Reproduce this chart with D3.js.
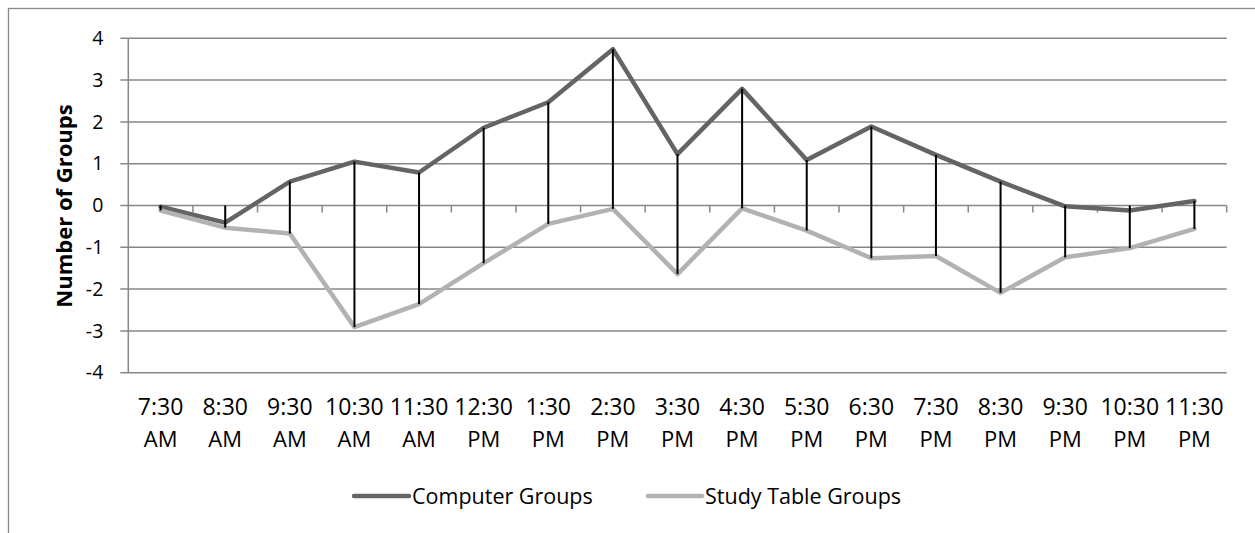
<!DOCTYPE html>
<html>
<head>
<meta charset="utf-8">
<script src="https://cdn.jsdelivr.net/npm/d3@7"></script>
<style>
  html, body { margin: 0; padding: 0; background: #fff; }
  svg { display: block; }
  text { font-family: "Open Sans", Lato, sans-serif; fill: #000; }
</style>
</head>
<body>
<svg id="chart" width="1255" height="533"></svg>
<script>
// ---- data ----
const timeLabels = ["7:30", "8:30", "9:30", "10:30", "11:30", "12:30", "1:30", "2:30", "3:30",
                    "4:30", "5:30", "6:30", "7:30", "8:30", "9:30", "10:30", "11:30"];
const periodLabels = ["AM", "AM", "AM", "AM", "AM", "PM", "PM", "PM", "PM",
                      "PM", "PM", "PM", "PM", "PM", "PM", "PM", "PM"];
const computerGroups = [-0.03, -0.41, 0.57, 1.05, 0.79, 1.86, 2.47, 3.74, 1.23,
                        2.79, 1.09, 1.89, 1.21, 0.57, -0.02, -0.12, 0.11];
const studyTableGroups = [-0.12, -0.53, -0.67, -2.91, -2.36, -1.38, -0.44, -0.08, -1.64,
                          -0.07, -0.60, -1.26, -1.21, -2.09, -1.24, -1.02, -0.56];
const yTicks = [-4, -3, -2, -1, 0, 1, 2, 3, 4];
const seriesNames = ["Computer Groups", "Study Table Groups"];
const seriesColors = ["#646464", "#b2b2b2"];

const categories = timeLabels.map((t, i) => i);

const svg = d3.select("#chart");
const plot = { left: 128.3, right: 1226.7, top: 38.3, bottom: 372.7 };

// outer chart border (extends past the visible image on right/bottom)
svg.append("rect")
  .attr("x", 8.5).attr("y", 8.5)
  .attr("width", 1300).attr("height", 600)
  .attr("fill", "none").attr("stroke", "#8a8a8a").attr("stroke-width", 1.3);

const x = d3.scaleBand().domain(categories).range([plot.left, plot.right]).padding(0);
const y = d3.scaleLinear().domain([-4, 4]).range([plot.bottom, plot.top]);

// y axis labels
const gAxis = svg.append("g").attr("transform", `translate(${plot.left - 8},0)`)
  .call(d3.axisLeft(y).tickValues(yTicks).tickSize(0).tickPadding(17)
        .tickFormat(d => d < 0 ? "-" + Math.abs(d) : String(d)));
gAxis.select(".domain").remove();
gAxis.selectAll("text").style("font-size", "19.5px").attr("fill", "#000");

// gridlines
svg.append("g").selectAll("line").data(yTicks).join("line")
  .attr("x1", plot.left - 8).attr("x2", plot.right)
  .attr("y1", d => y(d)).attr("y2", d => y(d))
  .attr("stroke", "#878787").attr("stroke-width", 1.5);
// vertical axis line
svg.append("line")
  .attr("x1", plot.left).attr("x2", plot.left)
  .attr("y1", plot.top).attr("y2", plot.bottom)
  .attr("stroke", "#878787").attr("stroke-width", 1.5);

// category tick marks on the zero line (at band boundaries)
const boundaries = categories.map(c => x(c)).concat([x(categories[categories.length - 1]) + x.bandwidth()]);
svg.append("g").selectAll("line").data(boundaries.slice(1)).join("line")
  .attr("x1", d => d).attr("x2", d => d)
  .attr("y1", y(0)).attr("y2", y(0) + 7)
  .attr("stroke", "#878787").attr("stroke-width", 1.5);

const cx = i => x(i) + x.bandwidth() / 2;

// series lines
const line = d3.line().x((d, i) => cx(i)).y(d => y(d)).curve(d3.curveLinear);
[computerGroups, studyTableGroups].forEach((vals, k) => {
  svg.append("path").datum(vals)
    .attr("d", line)
    .attr("fill", "none")
    .attr("stroke", seriesColors[k])
    .attr("stroke-width", 4.5)
    .attr("stroke-linejoin", "round")
    .attr("stroke-linecap", "round");
});

// high-low lines (extent including the zero baseline series)
svg.append("g").selectAll("line").data(categories).join("line")
  .attr("x1", i => cx(i)).attr("x2", i => cx(i))
  .attr("y1", i => y(d3.max([computerGroups[i], studyTableGroups[i], 0])))
  .attr("y2", i => y(d3.min([computerGroups[i], studyTableGroups[i], 0])))
  .attr("stroke", "#000").attr("stroke-width", 2);

// x labels
const xl = svg.append("g");
xl.selectAll("text.t").data(categories).join("text").attr("class", "t")
  .attr("x", i => cx(i)).attr("y", 415)
  .attr("text-anchor", "middle").style("font-size", "23px")
  .text(i => timeLabels[i]);
xl.selectAll("text.p").data(categories).join("text").attr("class", "p")
  .attr("x", i => cx(i)).attr("y", 446.7)
  .attr("text-anchor", "middle").style("font-size", "22px")
  .text(i => periodLabels[i]);

// y axis title
svg.append("text")
  .attr("transform", `translate(72,206) rotate(-90)`)
  .attr("text-anchor", "middle")
  .style("font-size", "22px").style("font-weight", "bold")
  .text("Number of Groups");

// legend
const legendItems = [
  { name: seriesNames[0], color: seriesColors[0], x1: 354, x2: 409, tx: 412 },
  { name: seriesNames[1], color: seriesColors[1], x1: 648, x2: 702, tx: 705 }
];
const lg = svg.append("g");
legendItems.forEach(it => {
  lg.append("line").attr("x1", it.x1).attr("x2", it.x2).attr("y1", 496).attr("y2", 496)
    .attr("stroke", it.color).attr("stroke-width", 4.5).attr("stroke-linecap", "round");
  lg.append("text").attr("x", it.tx).attr("y", 504).style("font-size", "21.5px").text(it.name);
});
</script>
</body>
</html>
